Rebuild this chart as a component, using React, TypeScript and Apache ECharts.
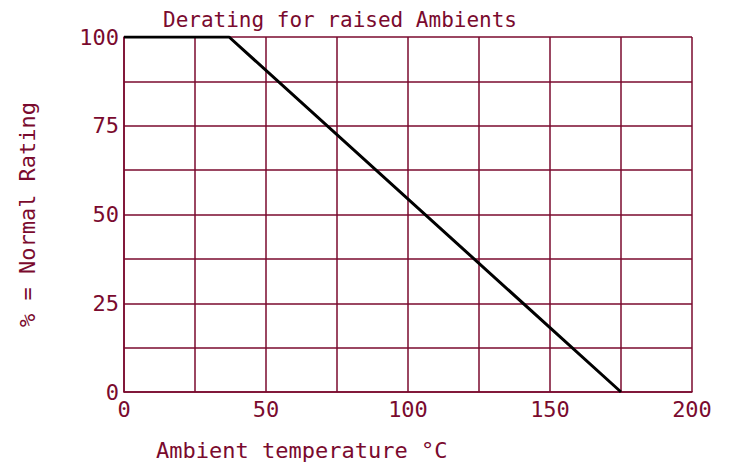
import React, { useEffect, useRef } from "react";
import * as echarts from "echarts";

const temperatures = [0, 37, 175];
const ratings = [100, 100, 0];
const titleText = "Derating for raised Ambients";
const xAxisTitle = "Ambient temperature °C";
const yAxisTitle = "% = Normal Rating";

const MAROON = "#7a0a2e";
const FONT = "DejaVu Sans Mono";

export default function App() {
  const ref = useRef<HTMLDivElement>(null);
  useEffect(() => {
    if (!ref.current) return;
    const chart = echarts.init(ref.current, undefined, { renderer: "svg" });
    chart.setOption({
      animation: false,
      backgroundColor: "#ffffff",
      title: {
        text: titleText,
        left: 158,
        top: 4,
        textStyle: { color: MAROON, fontFamily: FONT, fontWeight: "normal", fontSize: 21 },
      },
      graphic: [
        {
          type: "text",
          left: 156,
          top: 439,
          style: { text: xAxisTitle, fill: MAROON, font: `22px "${FONT}"` },
        },
      ],
      grid: { left: 124, right: 38, top: 37, bottom: 78 },
      xAxis: {
        type: "value",
        min: 0,
        max: 200,
        interval: 50,
        axisLine: { show: true, lineStyle: { color: MAROON, width: 1.5 } },
        axisTick: { show: false },
        minorTick: { show: false, splitNumber: 2 },
        splitLine: { show: true, lineStyle: { color: MAROON, width: 1.5 } },
        minorSplitLine: { show: true, lineStyle: { color: MAROON, width: 1.5 } },
        axisLabel: { color: MAROON, fontFamily: FONT, fontSize: 22, margin: 6 },
      },
      yAxis: {
        type: "value",
        min: 0,
        max: 100,
        interval: 25,
        name: yAxisTitle,
        nameLocation: "middle",
        nameGap: 86,
        nameTextStyle: { color: MAROON, fontFamily: FONT, fontSize: 22 },
        axisLine: { show: true, lineStyle: { color: MAROON, width: 1.5 } },
        axisTick: { show: false },
        minorTick: { show: false, splitNumber: 2 },
        splitLine: { show: true, lineStyle: { color: MAROON, width: 1.5 } },
        minorSplitLine: { show: true, lineStyle: { color: MAROON, width: 1.5 } },
        axisLabel: { color: MAROON, fontFamily: FONT, fontSize: 22, margin: 5 },
      },
      series: [
        {
          type: "line",
          data: temperatures.map((t, i) => [t, ratings[i]]),
          symbol: "none",
          lineStyle: { color: "#000000", width: 3 },
        },
      ],
    });
    return () => chart.dispose();
  }, []);
  return <div ref={ref} style={{ width: 730, height: 470, margin: -8 }} />;
}
